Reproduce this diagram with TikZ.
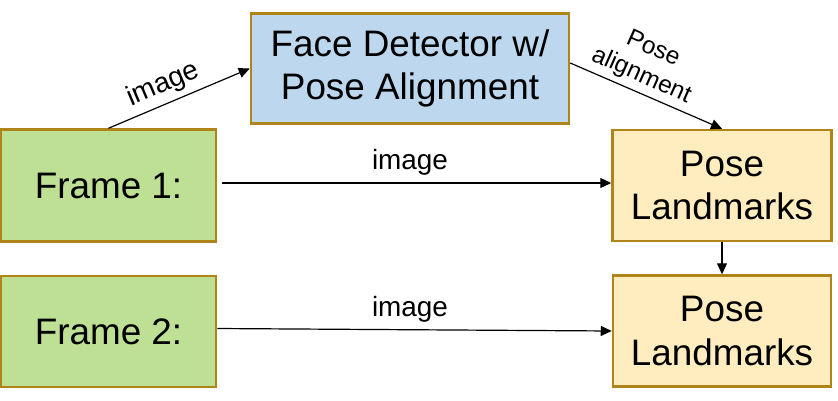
\documentclass[tikz,border=0pt]{standalone}
\usepackage{fontspec}
\setmainfont{Liberation Sans}
\usetikzlibrary{arrows.meta}
\definecolor{gfill}{HTML}{BDE094}
\definecolor{bfill}{HTML}{BDD7EE}
\definecolor{yfill}{HTML}{FFEDBF}
\definecolor{bord}{HTML}{AF851A}
\tikzset{
  box/.style={draw=bord, line width=2.5bp, inner sep=0pt, align=center,
    font=\fontsize{37}{44}\selectfont},
  conn/.style={line width=1.2bp, -{Triangle[length=11bp,width=10bp]}},
  lbl/.style={font=\fontsize{28}{32}\selectfont, inner sep=1bp},
  slbl/.style={font=\fontsize{24.5}{29}\selectfont, align=center, inner sep=1bp}
}
\begin{document}
\begin{tikzpicture}[x=1bp,y=-1bp]
\useasboundingbox (0,0) rectangle (838,400);
\node[box, fill=gfill, minimum width=215bp, minimum height=112bp] (f1) at (108.5,185.5) {Frame 1:};
\node[box, fill=gfill, minimum width=215bp, minimum height=111bp] (f2) at (108.5,331.5) {Frame 2:};
\node[box, fill=bfill, minimum width=318bp, minimum height=110bp] (fd) at (410,68.5) {Face Detector w/\\Pose Alignment};
\node[box, fill=yfill, minimum width=219bp, minimum height=111bp] (p1) at (722,185.5) {Pose\\Landmarks};
\node[box, fill=yfill, minimum width=218bp, minimum height=111bp] (p2) at (722,331) {Pose\\Landmarks};

\draw[conn] (f1.north) -- node[lbl, sloped, above=4bp, pos=0.44] (l1) {image} (fd.west);
\draw[conn] ([yshift=5.5bp]fd.east) -- (p1.north);
\node[slbl, rotate=-24] (l2) at (647,63) {Pose\\alignment};
\draw[conn] ([xshift=5bp,yshift=2.5bp]f1.east) -- ([yshift=2.5bp]p1.west);
\node[lbl, anchor=base] (l3) at (410,169) {image};
\draw[conn] ([yshift=3bp]f2.east) -- (p2.west);
\node[lbl, anchor=base] (l4) at (410,316) {image};
\draw[conn] (p1.south) -- (p2.north);
\end{tikzpicture}
\end{document}
